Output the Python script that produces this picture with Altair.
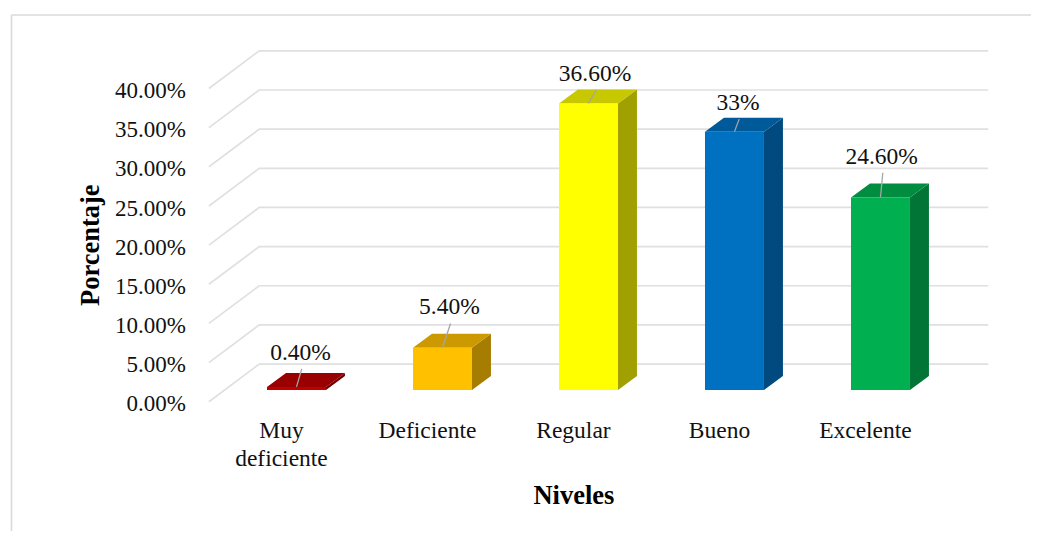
import altair as alt
import pandas as pd

categories = ["Muy deficiente", "Deficiente", "Regular", "Bueno", "Excelente"]
category_lines = [["Muy", "deficiente"], ["Deficiente"], ["Regular"], ["Bueno"], ["Excelente"]]
values = [0.4, 5.4, 36.6, 33.0, 24.6]
value_labels = ["0.40%", "5.40%", "36.60%", "33%", "24.60%"]
ticks = [0, 5, 10, 15, 20, 25, 30, 35, 40]
tick_labels = ["0.00%", "5.00%", "10.00%", "15.00%", "20.00%", "25.00%", "30.00%", "35.00%", "40.00%"]
front_colors = ["#C00000", "#FFC000", "#FFFF00", "#0070C0", "#00B050"]
top_colors = ["#990000", "#CC9A00", "#C8C800", "#005A9A", "#008D40"]
side_colors = ["#730000", "#A67D00", "#A0A000", "#004A80", "#007535"]

# layout, in scale units (category index / percent)
HALF = 0.202
DX, DY = 0.130, 1.79
leader_dx = [0.036, 0.055, 0.053, 0.032, 0.016]
leader_len = [2.3, 3.1, 1.75, 1.6, 3.15]
LABEL_GAP = 2.05
GX0, GX1, GX2 = -0.6, -0.255, 4.738
GY0, GY1 = -1.49, 3.32
XDOM = [-1.976, 5.031]
YDOM = [-18.0, 48.79]

x_scale = alt.Scale(domain=XDOM, nice=False, zero=False)
y_scale = alt.Scale(domain=YDOM, nice=False, zero=False)
X = alt.X("x:Q", scale=x_scale, axis=None)
Y = alt.Y("y:Q", scale=y_scale, axis=None)
SERIF = "Liberation Serif"

grid_rows = []
for t in ticks:
    grid_rows += [
        {"t": t, "x": GX0, "y": t + GY0},
        {"t": t, "x": GX1, "y": t + GY1},
        {"t": t, "x": GX2, "y": t + GY1},
    ]
grid = alt.Chart(pd.DataFrame(grid_rows)).mark_line(color="#E0E0E0", strokeWidth=1.7).encode(
    x=X, y=Y, detail="t:N", order="x:Q"
)

front_rows, leader_rows, label_rows, cat_rows = [], [], [], []
face_layers = []
for i, v in enumerate(values):
    xl, xr = i - HALF, i + HALF
    front_rows.append({"x": xl, "x2": xr, "y": v, "y2": 0, "c": front_colors[i]})
    side_rows = [
        {"x": xr, "y": v, "y2": 0},
        {"x": xr + DX, "y": v + DY, "y2": DY},
    ]
    top_rows = [
        {"x": xl, "y": v, "y2": v},
        {"x": xl + DX, "y": v + DY, "y2": v},
        {"x": xr, "y": v + DY, "y2": v},
        {"x": xr + DX, "y": v + DY, "y2": v + DY},
    ]
    face_layers.append(alt.Chart(pd.DataFrame(side_rows)).mark_area(color=side_colors[i]).encode(x=X, y=Y, y2="y2:Q"))
    face_layers.append(alt.Chart(pd.DataFrame(top_rows)).mark_area(color=top_colors[i]).encode(x=X, y=Y, y2="y2:Q"))
    tip = v + leader_len[i]
    leader_rows.append({"x": i, "x2": i + leader_dx[i], "y": v, "y2": tip})
    label_rows.append({"x": i + leader_dx[i] - 0.008, "y": tip + LABEL_GAP, "s": value_labels[i]})
    for j, line in enumerate(category_lines[i]):
        cat_rows.append({"x": i - 0.103, "y": -5.24 - 3.6 * j, "s": line})

front = alt.Chart(pd.DataFrame(front_rows)).mark_rect().encode(
    x=X, x2="x2:Q", y=Y, y2="y2:Q", color=alt.Color("c:N", scale=None)
)
leaders = alt.Chart(pd.DataFrame(leader_rows)).mark_rule(color="#A6A6A6", strokeWidth=1.3).encode(
    x=X, x2="x2:Q", y=Y, y2="y2:Q"
)
text_style = dict(font=SERIF, color="#111111", baseline="middle")
data_labels = alt.Chart(pd.DataFrame(label_rows)).mark_text(align="center", fontSize=23.5, **text_style).encode(
    x=X, y=Y, text="s:N"
)
cat_labels = alt.Chart(pd.DataFrame(cat_rows)).mark_text(align="center", fontSize=23.5, **text_style).encode(
    x=X, y=Y, text="s:N"
)
tick_rows = [{"x": -0.757, "y": t - 1.82, "s": s} for t, s in zip(ticks, tick_labels)]
tick_text = alt.Chart(pd.DataFrame(tick_rows)).mark_text(align="right", fontSize=23, **text_style).encode(
    x=X, y=Y, text="s:N"
)
title_style = dict(font=SERIF, fontSize=26.5, fontWeight="bold", color="#000000", baseline="middle", align="center")
x_title = alt.Chart(pd.DataFrame([{"x": 1.9, "y": -13.5, "s": "Niveles"}])).mark_text(**title_style).encode(
    x=X, y=Y, text="s:N"
)
y_title = alt.Chart(pd.DataFrame([{"x": -1.41, "y": 18.5, "s": "Porcentaje"}])).mark_text(angle=270, **title_style).encode(
    x=X, y=Y, text="s:N"
)
frame_top = alt.Chart(pd.DataFrame([{"a": 1}])).mark_rule(color="#DADADA", strokeWidth=1.6).encode(
    x=alt.value(3.5), x2=alt.value(1023), y=alt.value(7)
)
frame_left = alt.Chart(pd.DataFrame([{"a": 1}])).mark_rule(color="#DADADA", strokeWidth=1.6).encode(
    x=alt.value(3.5), y=alt.value(7), y2=alt.value(523)
)

chart = alt.layer(
    frame_top, frame_left, grid, *face_layers, front, leaders, data_labels, cat_labels, tick_text, x_title, y_title
).properties(
    width=1023, height=523, padding=0, background="#FFFFFF",
    autosize=alt.AutoSizeParams(type="none"),
).configure_view(stroke=None)

chart.save("out.html", embed_options={"renderer": "svg", "actions": False})
